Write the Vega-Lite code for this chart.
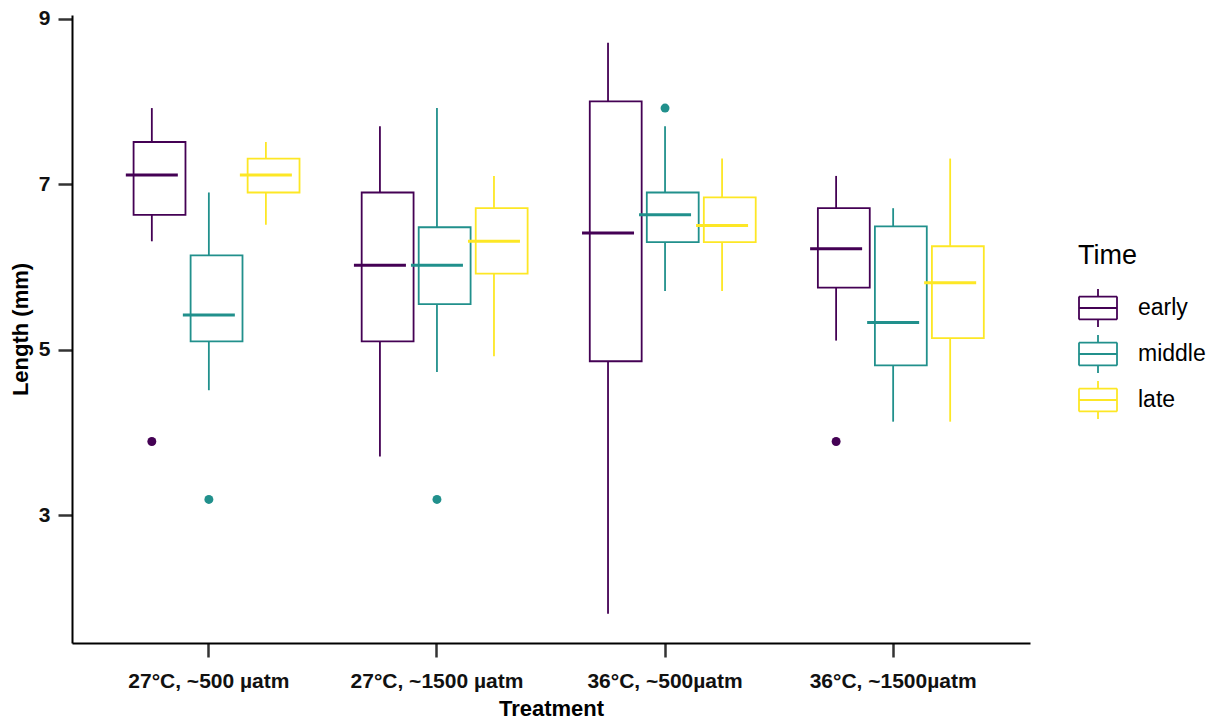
{
  "$schema": "https://vega.github.io/schema/vega-lite/v6.json",
  "autosize": {"type": "none"},
  "width": 958,
  "height": 628,
  "padding": {"left": 72, "top": 15, "right": 182, "bottom": 78},
  "background": "white",
  "config": {
    "view": {"stroke": null},
    "font": "Liberation Sans",
    "axis": {"grid": false, "domainColor": "black", "domainWidth": 2, "tickColor": "#333333", "tickWidth": 2.5, "tickSize": 14, "labelColor": "#111111", "labelFontWeight": "bold", "labelFontSize": 21, "titleFontWeight": "bold", "titleFontSize": 22, "titleColor": "black", "labelFont": "Liberation Sans", "titleFont": "Liberation Sans"}
  },
  "datasets": {
    "boxes": [
      {"Treatment": "27°C, ~500 µatm", "Time": "early", "lower": 6.31, "q1": 6.63, "median": 7.11, "q3": 7.51, "upper": 7.92},
      {"Treatment": "27°C, ~500 µatm", "Time": "middle", "lower": 4.51, "q1": 5.10, "median": 5.42, "q3": 6.14, "upper": 6.90},
      {"Treatment": "27°C, ~500 µatm", "Time": "late", "lower": 6.51, "q1": 6.90, "median": 7.11, "q3": 7.31, "upper": 7.51},
      {"Treatment": "27°C, ~1500 µatm", "Time": "early", "lower": 3.71, "q1": 5.10, "median": 6.02, "q3": 6.90, "upper": 7.70},
      {"Treatment": "27°C, ~1500 µatm", "Time": "middle", "lower": 4.73, "q1": 5.55, "median": 6.02, "q3": 6.48, "upper": 7.92},
      {"Treatment": "27°C, ~1500 µatm", "Time": "late", "lower": 4.92, "q1": 5.92, "median": 6.31, "q3": 6.71, "upper": 7.10},
      {"Treatment": "36°C, ~500µatm", "Time": "early", "lower": 1.81, "q1": 4.86, "median": 6.41, "q3": 8.00, "upper": 8.71},
      {"Treatment": "36°C, ~500µatm", "Time": "middle", "lower": 5.71, "q1": 6.30, "median": 6.63, "q3": 6.90, "upper": 7.70},
      {"Treatment": "36°C, ~500µatm", "Time": "late", "lower": 5.71, "q1": 6.30, "median": 6.50, "q3": 6.84, "upper": 7.31},
      {"Treatment": "36°C, ~1500µatm", "Time": "early", "lower": 5.11, "q1": 5.75, "median": 6.22, "q3": 6.71, "upper": 7.10},
      {"Treatment": "36°C, ~1500µatm", "Time": "middle", "lower": 4.13, "q1": 4.81, "median": 5.33, "q3": 6.49, "upper": 6.71},
      {"Treatment": "36°C, ~1500µatm", "Time": "late", "lower": 4.13, "q1": 5.14, "median": 5.81, "q3": 6.25, "upper": 7.31}
    ],
    "outliers": [
      {"Treatment": "27°C, ~500 µatm", "Time": "early", "Length": 3.89},
      {"Treatment": "27°C, ~500 µatm", "Time": "middle", "Length": 3.19},
      {"Treatment": "27°C, ~1500 µatm", "Time": "middle", "Length": 3.19},
      {"Treatment": "36°C, ~500µatm", "Time": "middle", "Length": 7.92},
      {"Treatment": "36°C, ~1500µatm", "Time": "early", "Length": 3.89}
    ]
  },
  "encoding": {
    "x": {"field": "Treatment", "type": "nominal", "sort": ["27°C, ~500 µatm", "27°C, ~1500 µatm", "36°C, ~500µatm", "36°C, ~1500µatm"],
      "scale": {"paddingInner": 0, "paddingOuter": 0.1},
      "axis": {"title": "Treatment", "labelAngle": 0, "labelPadding": 13, "titlePadding": 7}},
    "xOffset": {"field": "Time", "type": "nominal", "sort": ["early", "middle", "late"], "scale": {"domain": ["early", "middle", "late"], "paddingInner": 0, "paddingOuter": 0.5}},
    "color": {"field": "Time", "type": "nominal", "scale": {"domain": ["early", "middle", "late"], "range": ["#440154", "#21908C", "#FDE725"]},
      "legend": {"title": "Time", "orient": "none", "legendX": 1006, "legendY": 228, "titleFontSize": 27, "titleFontWeight": "normal", "titleColor": "black", "titlePadding": 18,
        "labelFontSize": 23, "labelColor": "black", "labelOffset": 20, "rowPadding": 0,
        "symbolType": "M-1,-0.6H1 M1,-0.6V0.6 M1,0.6H-1 M-1,0.6V-0.6 M-1,0H1 M0,-1V-0.6 M0,0.6V1", "symbolSize": 1444, "symbolStrokeWidth": 1.8}}
  },
  "layer": [
    {
      "data": {"name": "boxes"},
      "mark": {"type": "bar", "filled": false, "strokeWidth": 1.8, "width": {"band": 0.91}},
      "encoding": {
        "y": {"field": "q1", "type": "quantitative", "scale": {"domain": [1.455, 9.045], "nice": false, "zero": false},
          "axis": {"title": "Length (mm)", "values": [3, 5, 7, 9], "format": "d", "labelPadding": 8, "titlePadding": 6}},
        "y2": {"field": "q3"}
      }
    },
    {
      "data": {"name": "boxes"},
      "mark": {"type": "rule", "strokeWidth": 1.8},
      "encoding": {
        "y": {"field": "lower", "type": "quantitative"},
        "y2": {"field": "q1"}
      }
    },
    {
      "data": {"name": "boxes"},
      "mark": {"type": "rule", "strokeWidth": 1.8},
      "encoding": {
        "y": {"field": "q3", "type": "quantitative"},
        "y2": {"field": "upper"}
      }
    },
    {
      "data": {"name": "boxes"},
      "mark": {"type": "tick", "orient": "horizontal", "size": 52, "thickness": 3, "opacity": 1},
      "encoding": {
        "y": {"field": "median", "type": "quantitative"}
      }
    },
    {
      "data": {"name": "outliers"},
      "mark": {"type": "point", "filled": true, "opacity": 1, "size": 80},
      "encoding": {
        "y": {"field": "Length", "type": "quantitative"}
      }
    }
  ]
}
